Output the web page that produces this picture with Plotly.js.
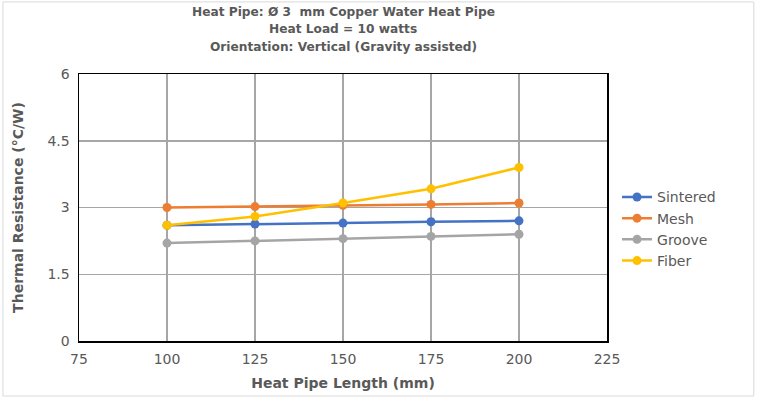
<!DOCTYPE html>
<html><head><meta charset="utf-8">
<script src="https://cdn.plot.ly/plotly-3.0.1.min.js"></script>
<style>html,body{margin:0;padding:0;background:#fff}#c{width:757px;height:399px}</style>
</head><body><div id="c"></div>
<script>
const lengths = [100, 125, 150, 175, 200];
const sintered = [2.6, 2.63, 2.65, 2.68, 2.7];
const mesh = [3.0, 3.02, 3.05, 3.07, 3.1];
const groove = [2.2, 2.25, 2.3, 2.35, 2.4];
const fiber = [2.6, 2.8, 3.1, 3.42, 3.9];
const names = ['Sintered', 'Mesh', 'Groove', 'Fiber'];
const colors = ['#4472C4', '#ED7D31', '#A5A5A5', '#FFC000'];
const titleLines = ['Heat Pipe: Ø 3  mm Copper Water Heat Pipe', 'Heat Load = 10 watts', 'Orientation: Vertical (Gravity assisted)'];
const series = [sintered, mesh, groove, fiber];
const traces = series.map((s, i) => ({
  x: lengths, y: s, name: names[i], type: 'scatter', mode: 'lines+markers',
  line: {color: colors[i], width: 2.5}, marker: {color: colors[i], size: 9}
}));
const font = 'DejaVu Sans, Verdana, sans-serif';
const titleAnn = titleLines.map((t, i) => ({
  text: '<b>' + t + '</b>', xref: 'paper', yref: 'paper', x: 0.5, xanchor: 'center',
  y: (341 - (12 + i * 17.5)) / 267, yanchor: 'middle', showarrow: false,
  font: {size: 12.2, color: '#595959', family: font}
}));
Plotly.newPlot('c', traces, {
  width: 757, height: 399,
  margin: {l: 79, r: 150, t: 74, b: 58},
  paper_bgcolor: '#fff', plot_bgcolor: '#fff',
  font: {family: font, color: '#595959', size: 14},
  xaxis: {range: [75, 225], dtick: 25, tick0: 75, showgrid: true, gridcolor: '#A6A6A6', gridwidth: 1.5,
    showline: true, linecolor: '#000', linewidth: 1.5, mirror: true, zeroline: false,
    ticks: 'outside', ticklen: 5, tickcolor: 'rgba(0,0,0,0)', tickfont: {size: 14, color: '#595959'},
    title: {text: '<b>Heat Pipe Length (mm)</b>', font: {size: 14, color: '#595959'}, standoff: 12}},
  yaxis: {range: [0, 6], dtick: 1.5, tick0: 0, showgrid: true, gridcolor: '#A6A6A6', gridwidth: 1.5,
    showline: true, linecolor: '#000', linewidth: 1.5, mirror: true, zeroline: false,
    ticks: 'outside', ticklen: 5, tickcolor: 'rgba(0,0,0,0)', tickfont: {size: 14, color: '#595959'},
    title: {text: '<b>Thermal Resistance (°C/W)</b>', font: {size: 14, color: '#595959'}, standoff: 20}},
  legend: {x: 1.019, y: 0.42, xanchor: 'left', yanchor: 'middle', font: {size: 14, color: '#595959'},
    tracegroupgap: 0, itemwidth: 30, bgcolor: 'rgba(0,0,0,0)'},
  annotations: titleAnn,
  shapes: [{type: 'rect', xref: 'paper', yref: 'paper', x0: -0.144, x1: 1.278, y0: -0.206, y1: 1.27,
    line: {color: '#D9D9D9', width: 1}}]
}, {displayModeBar: false, staticPlot: true});
</script></body></html>
